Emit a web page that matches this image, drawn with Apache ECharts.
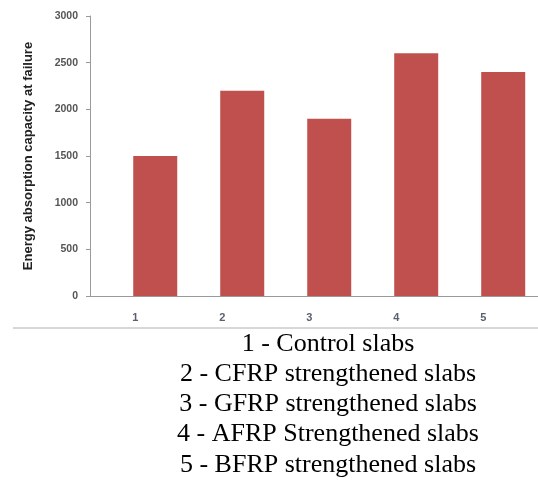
<!DOCTYPE html>
<html>
<head>
<meta charset="utf-8">
<script src="https://cdn.jsdelivr.net/npm/echarts@6/dist/echarts.min.js"></script>
<style>html,body{margin:0;padding:0;background:#fff}#c{width:538px;height:481px}</style>
</head>
<body>
<div id="c"></div>
<script>
const categories = ['1', '2', '3', '4', '5'];
const energyValues = [1500, 2200, 1900, 2600, 2400];
const yTicks = [0, 500, 1000, 1500, 2000, 2500, 3000];
const yAxisTitle = 'Energy absorption capacity at failure';
const legendLines = [
  '1 - Control slabs',
  '2 - CFRP strengthened slabs',
  '3 - GFRP strengthened slabs',
  '4 - AFRP Strengthened slabs',
  '5 - BFRP strengthened slabs'
];

const chart = echarts.init(document.getElementById('c'), null, {renderer: 'canvas'});
const xs = categories.map(Number);
const legendGraphics = legendLines.map((t, i) => ({
  type: 'text',
  style: {
    text: t, x: 328, y: 344 + i * 30.2,
    textAlign: 'center', textVerticalAlign: 'middle',
    font: '26px "Liberation Serif", "Times New Roman", serif',
    fill: '#000'
  }
}));

chart.setOption({
  animation: false,
  grid: {left: 90, right: 0, top: 16, bottom: 185, containLabel: false},
  xAxis: {
    type: 'value', min: 0.25, max: 5.4,
    splitLine: {show: false},
    axisLine: {show: true, lineStyle: {color: '#9a9a9a', width: 1}},
    axisTick: {show: false},
    axisLabel: {
      customValues: xs,
      formatter: v => categories[xs.indexOf(v)] || '',
      color: '#5a6070', fontSize: 11, fontFamily: '"Liberation Sans", Arial, sans-serif',
      fontWeight: 'bold',
      margin: 16, padding: [0, 40, 0, 0]
    }
  },
  yAxis: {
    type: 'value', min: yTicks[0], max: yTicks[yTicks.length - 1], interval: 500,
    name: yAxisTitle, nameLocation: 'middle', nameGap: 55, nameRotate: 90,
    nameTextStyle: {fontSize: 13, fontWeight: 'bold', color: '#222', fontFamily: '"Liberation Sans", Arial, sans-serif'},
    splitLine: {show: false},
    axisLine: {show: true, lineStyle: {color: '#9a9a9a', width: 1}},
    axisTick: {show: true, inside: false, length: 4, lineStyle: {color: '#9a9a9a'}},
    axisLabel: {
      formatter: v => String(v),
      color: '#555', fontSize: 10.5, fontWeight: 'bold', margin: 12,
      fontFamily: '"Liberation Sans", Arial, sans-serif'
    }
  },
  series: [{
    type: 'bar',
    data: xs.map((x, i) => [x, energyValues[i]]),
    barWidth: 44,
    itemStyle: {color: '#c0504d'}
  }],
  graphic: [
    {type: 'line', shape: {x1: 13, y1: 328, x2: 538, y2: 328}, style: {stroke: '#b0b0b0', lineWidth: 1}},
    ...legendGraphics
  ]
});
</script>
</body>
</html>
